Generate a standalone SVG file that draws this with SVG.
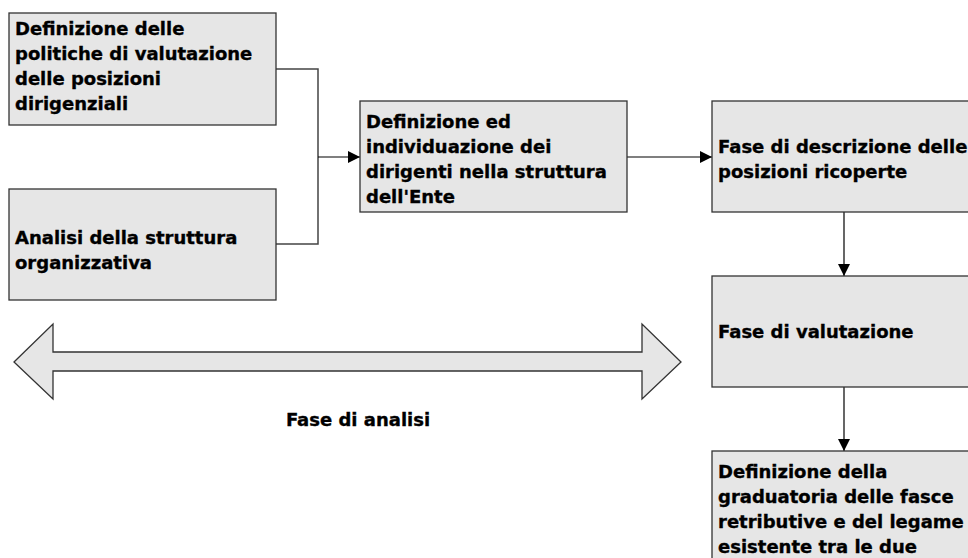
<svg xmlns="http://www.w3.org/2000/svg" width="968" height="558" viewBox="0 0 968 558">
<defs>
<style>
.box{fill:#e6e6e6;stroke:#333;stroke-width:1.3}
.t{font-family:"DejaVu Sans",Verdana,sans-serif;font-weight:bold;font-size:18px;fill:#000;stroke:#000;stroke-width:0.35}
.c{fill:none;stroke:#000;stroke-width:1.2}
.g{fill:none;stroke:#444;stroke-width:1.5}
</style>
<marker id="ah" viewBox="0 0 12 12" refX="12" refY="6" markerWidth="12" markerHeight="12" markerUnits="userSpaceOnUse" orient="auto">
<path d="M0,0 L12,6 L0,12 Z" fill="#000"/>
</marker>
</defs>
<rect width="968" height="558" fill="#fff"/>
<g id="connectors">
<polyline class="g" points="276,69 318,69 318,244 276,244"/>
<line class="c" x1="318" y1="157" x2="360" y2="157" marker-end="url(#ah)"/>
<line class="c" x1="627" y1="157" x2="712" y2="157" marker-end="url(#ah)"/>
<line class="c" x1="844" y1="212" x2="844" y2="276" marker-end="url(#ah)"/>
<line class="c" x1="844" y1="387" x2="844" y2="451" marker-end="url(#ah)"/>
</g>
<g id="n1">
<rect class="box" x="9" y="13" width="267" height="112"/>
<text class="t"><tspan x="15" y="35">Definizione delle</tspan><tspan x="15" y="60">politiche di valutazione</tspan><tspan x="15" y="85">delle posizioni</tspan><tspan x="15" y="110">dirigenziali</tspan></text>
</g>
<g id="n2">
<rect class="box" x="9" y="189" width="267" height="111"/>
<text class="t"><tspan x="15" y="244">Analisi della struttura</tspan><tspan x="15" y="269">organizzativa</tspan></text>
</g>
<g id="n3">
<rect class="box" x="360" y="101" width="267" height="111"/>
<text class="t"><tspan x="366" y="128">Definizione ed</tspan><tspan x="366" y="153">individuazione dei</tspan><tspan x="366" y="178">dirigenti nella struttura</tspan><tspan x="366" y="203">dell'Ente</tspan></text>
</g>
<g id="n4">
<rect class="box" x="712" y="101" width="267" height="111"/>
<text class="t"><tspan x="718" y="153">Fase di descrizione delle</tspan><tspan x="718" y="178">posizioni ricoperte</tspan></text>
</g>
<g id="n5">
<rect class="box" x="712" y="276" width="267" height="111"/>
<text class="t"><tspan x="718" y="338">Fase di valutazione</tspan></text>
</g>
<g id="n6">
<rect class="box" x="712" y="451" width="267" height="120"/>
<text class="t"><tspan x="718" y="478">Definizione della</tspan><tspan x="718" y="503">graduatoria delle fasce</tspan><tspan x="718" y="528">retributive e del legame</tspan><tspan x="718" y="553">esistente tra le due</tspan></text>
</g>
<g id="phase">
<polygon class="box" stroke-width="1" points="14,362 53,324 53,352 642,352 642,324 681,362 642,399 642,371 53,371 53,399"/>
<text class="t" x="358" y="426" text-anchor="middle">Fase di analisi</text>
</g>
</svg>
